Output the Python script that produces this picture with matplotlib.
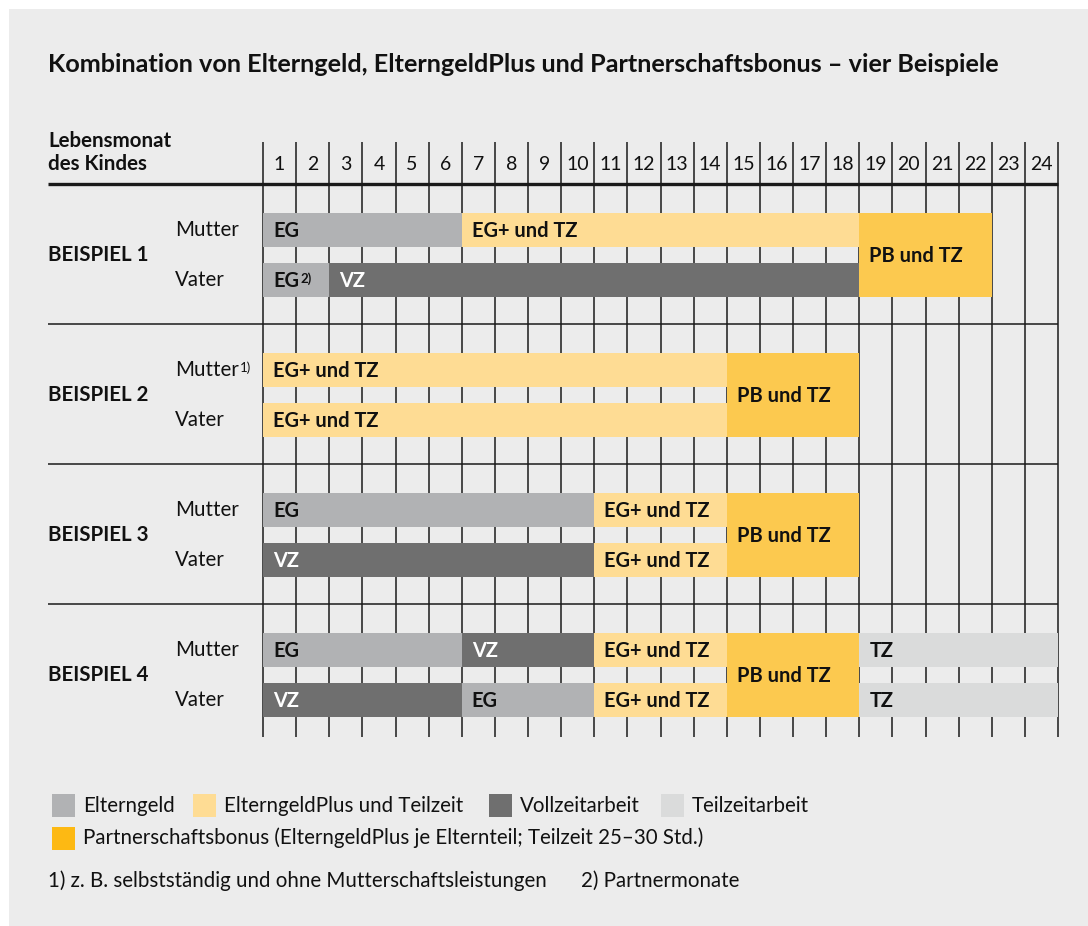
import matplotlib
matplotlib.use("Agg")
import matplotlib.pyplot as plt
from matplotlib.patches import Rectangle

plt.rcParams['font.family'] = ['Lato', 'DejaVu Sans']

# ─────────────────────────────────────────────
# Daten
# ─────────────────────────────────────────────
months = list(range(1, 25))
examples = ["BEISPIEL 1", "BEISPIEL 2", "BEISPIEL 3", "BEISPIEL 4"]
parents = ["Mutter", "Vater"]
parent_notes = [("", ""), ("1)", ""), ("", ""), ("", "")]

# (Start-Monat, End-Monat, Kategorie, Beschriftung, Fußnote)
mutter_segments = [
    [(1, 6, "EG", "EG", ""), (7, 18, "EGP", "EG+ und TZ", "")],
    [(1, 14, "EGP", "EG+ und TZ", "")],
    [(1, 10, "EG", "EG", ""), (11, 14, "EGP", "EG+ und TZ", "")],
    [(1, 6, "EG", "EG", ""), (7, 10, "VZ", "VZ", ""), (11, 14, "EGP", "EG+ und TZ", ""),
     (19, 24, "TZ", "TZ", "")],
]
vater_segments = [
    [(1, 2, "EG", "EG", "2)"), (3, 18, "VZ", "VZ", "")],
    [(1, 14, "EGP", "EG+ und TZ", "")],
    [(1, 10, "VZ", "VZ", ""), (11, 14, "EGP", "EG+ und TZ", "")],
    [(1, 6, "VZ", "VZ", ""), (7, 10, "EG", "EG", ""), (11, 14, "EGP", "EG+ und TZ", ""),
     (19, 24, "TZ", "TZ", "")],
]
# Partnerschaftsbonus (beide Elternteile gemeinsam)
pb_segments = [(19, 22), (15, 18), (15, 18), (15, 18)]

colors = {
    "EG": "#b1b2b4",
    "EGP": "#fedc94",
    "VZ": "#6f6f6f",
    "TZ": "#dadbdb",
    "PB": "#fcc94f",
}
legend_items = [
    ("Elterngeld", "#b1b2b4"),
    ("ElterngeldPlus und Teilzeit", "#fedc94"),
    ("Vollzeitarbeit", "#6f6f6f"),
    ("Teilzeitarbeit", "#dadbdb"),
]
legend_pb = ("Partnerschaftsbonus (ElterngeldPlus je Elternteil; Teilzeit 25–30 Std.)", "#fdb913")
footnotes = ["1) z. B. selbstständig und ohne Mutterschaftsleistungen", "2) Partnermonate"]
title = "Kombination von Elterngeld, ElterngeldPlus und Partnerschaftsbonus – vier Beispiele"

# ─────────────────────────────────────────────
# Layout (Pixel)
# ─────────────────────────────────────────────
W, H = 1088, 926
X0 = 263            # linke Kante Monat 1
MW = 33.125         # Breite eines Monats
BG = "#ececec"
LINE = "#1a1a1a"
TXT = "#111111"
FS = 14.8           # Standard-Schriftgröße
FSB = 14.4          # fette Balkenbeschriftung

fig = plt.figure(figsize=(W / 100, H / 100), dpi=100)
fig.patch.set_facecolor("white")
ax = fig.add_axes([0, 0, 1, 1])
ax.set_xlim(-X0 / MW, (W - X0) / MW)
ax.set_ylim(H, 0)
ax.axis("off")


def px(x):
    """Pixel -> Monats-Koordinate."""
    return (x - X0) / MW


def sup(artist, note, bold=False):
    # hochgestellte Fußnote direkt hinter einem Text
    ax.annotate(note, xy=(1, 0.95), xycoords=artist, xytext=(1, 0), textcoords="offset pixels",
                fontsize=9.5, fontweight="bold" if bold else "normal",
                ha="left", va="top", color=TXT, zorder=6)


# Hintergrund-Panel
ax.add_patch(Rectangle((px(9), 9), (W - 9) / MW, H - 9, facecolor=BG, edgecolor="none", zorder=0))

# Titel
ax.text(px(48), 65, title, fontsize=18.2, fontweight="bold", va="center", ha="left", color=TXT)

# Kopfzeile
ax.text(px(48), 141, "Lebensmonat", fontsize=FS, fontweight="bold", va="center", color=TXT)
ax.text(px(48), 164, "des Kindes", fontsize=FS, fontweight="bold", va="center", color=TXT)
for m in months:
    ax.text(m - 0.5, 164, str(m), fontsize=14, ha="center", va="center", color=TXT)

# Gitterlinien
for m in range(0, 25):
    ax.plot([m, m], [142, 737], color=LINE, lw=1.1, zorder=1, solid_capstyle="butt")
ax.plot([px(48), 24], [184, 184], color=LINE, lw=2.4, zorder=3, solid_capstyle="butt")
for b in range(1, 4):
    yy = 184 + 140 * b
    ax.plot([px(48), 24], [yy, yy], color=LINE, lw=1.1, zorder=3, solid_capstyle="butt")

BAR_H = 34
TXT_OFF = 10 / MW


def seg_label(x, y, label, cat, note=""):
    col = "white" if cat == "VZ" else TXT
    t = ax.text(x + TXT_OFF, y + 1, label, fontsize=FSB, fontweight="bold",
                ha="left", va="center", color=col, zorder=5)
    if note:
        sup(t, note, bold=True)
    return t


for b in range(4):
    ym = 230 + 140 * b
    yv = 280 + 140 * b
    ax.text(px(48), (ym + yv) / 2, examples[b], fontsize=FS, fontweight="bold",
            va="center", color=TXT)
    for name, yy, note in zip(parents, (ym, yv), parent_notes[b]):
        t = ax.text(px(175), yy, name, fontsize=FS, va="center", color=TXT)
        if note:
            sup(t, note)

    for segs, yy in ((mutter_segments[b], ym), (vater_segments[b], yv)):
        for s, e, cat, label, note in segs:
            ax.barh(yy, e - s + 1, left=s - 1, height=BAR_H, color=colors[cat], zorder=2)
            seg_label(s - 1, yy, label, cat, note)

    s, e = pb_segments[b]
    ax.barh((ym + yv) / 2, e - s + 1, left=s - 1, height=yv - ym + BAR_H,
            color=colors["PB"], zorder=2)
    seg_label(s - 1, (ym + yv) / 2, "PB und TZ", "PB")

# Legende
leg_x = [52, 193, 489, 661]
for (lab, col), lx in zip(legend_items, leg_x):
    ax.add_patch(Rectangle((px(lx), 794), 23 / MW, 23, facecolor=col, edgecolor="none", zorder=2))
    ax.text(px(lx + 31), 806, lab, fontsize=FS, va="center", color=TXT)
ax.add_patch(Rectangle((px(52), 827), 23 / MW, 23, facecolor=legend_pb[1], edgecolor="none", zorder=2))
ax.text(px(83), 838, legend_pb[0], fontsize=FS, va="center", color=TXT)

ax.text(px(48), 881, footnotes[0], fontsize=FS, va="center", color=TXT)
ax.text(px(581), 881, footnotes[1], fontsize=FS, va="center", color=TXT)

fig.savefig("out.png", dpi=100, facecolor=fig.get_facecolor())
